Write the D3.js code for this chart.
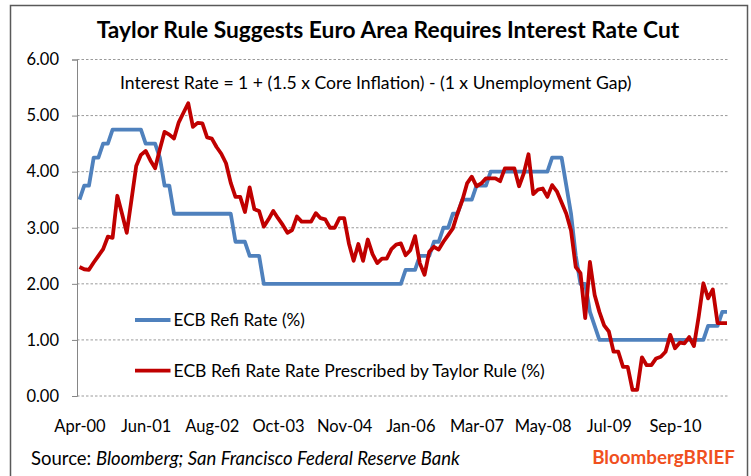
<!DOCTYPE html>
<html>
<head>
<meta charset="utf-8">
<script src="https://cdn.jsdelivr.net/npm/d3@7"></script>
<style>
  body { margin: 0; background: #fff; }
  text { font-family: Lato, "Open Sans", sans-serif; fill: #000; }
</style>
</head>
<body>
<svg id="chart" width="751" height="476"></svg>
<script>
// monthly values, Apr-00 .. Sep-11
const refiRate = [
  3.50, 3.75, 3.75, 4.25, 4.25, 4.50, 4.50, 4.75, 4.75, 4.75,
  4.75, 4.75, 4.75, 4.75, 4.50, 4.50, 4.50, 4.25, 3.75, 3.75,
  3.25, 3.25, 3.25, 3.25, 3.25, 3.25, 3.25, 3.25, 3.25, 3.25,
  3.25, 3.25, 3.25, 2.75, 2.75, 2.75, 2.50, 2.50, 2.50, 2.00,
  2.00, 2.00, 2.00, 2.00, 2.00, 2.00, 2.00, 2.00, 2.00, 2.00,
  2.00, 2.00, 2.00, 2.00, 2.00, 2.00, 2.00, 2.00, 2.00, 2.00,
  2.00, 2.00, 2.00, 2.00, 2.00, 2.00, 2.00, 2.00, 2.00, 2.25,
  2.25, 2.25, 2.50, 2.50, 2.50, 2.75, 2.75, 3.00, 3.00, 3.25,
  3.25, 3.50, 3.50, 3.50, 3.75, 3.75, 3.75, 4.00, 4.00, 4.00,
  4.00, 4.00, 4.00, 4.00, 4.00, 4.00, 4.00, 4.00, 4.00, 4.00,
  4.25, 4.25, 4.25, 3.75, 3.25, 2.50, 2.00, 2.00, 1.50, 1.25,
  1.00, 1.00, 1.00, 1.00, 1.00, 1.00, 1.00, 1.00, 1.00, 1.00,
  1.00, 1.00, 1.00, 1.00, 1.00, 1.00, 1.00, 1.00, 1.00, 1.00,
  1.00, 1.00, 1.00, 1.25, 1.25, 1.25, 1.50, 1.50
];
const taylorRate = [
  2.30, 2.26, 2.25, 2.38, 2.50, 2.62, 2.84, 2.82, 3.57, 3.25,
  2.91, 3.50, 4.10, 4.30, 4.37, 4.20, 4.06, 4.40, 4.71, 4.66,
  4.59, 4.88, 5.05, 5.22, 4.80, 4.87, 4.86, 4.61, 4.59, 4.44,
  4.32, 4.15, 3.80, 3.55, 3.55, 3.28, 3.72, 3.33, 3.30, 3.02,
  3.15, 3.30, 3.17, 3.05, 2.91, 2.96, 3.20, 3.11, 3.11, 3.11,
  3.26, 3.17, 3.15, 3.00, 3.00, 3.17, 3.17, 2.72, 2.41, 2.71,
  2.41, 2.79, 2.53, 2.37, 2.45, 2.45, 2.62, 2.70, 2.72, 2.51,
  2.60, 2.85, 2.37, 2.16, 2.57, 2.66, 2.61, 2.75, 2.87, 2.99,
  3.26, 3.49, 3.79, 3.91, 3.74, 3.79, 3.88, 3.88, 3.88, 3.83,
  4.06, 4.06, 4.06, 3.74, 3.97, 4.31, 3.60, 3.68, 3.70, 3.55,
  3.76, 3.65, 3.45, 3.25, 2.95, 2.30, 2.19, 1.39, 2.39, 1.80,
  1.50, 1.26, 1.15, 0.79, 0.79, 0.52, 0.52, 0.11, 0.11, 0.69,
  0.55, 0.55, 0.67, 0.70, 0.79, 1.09, 0.85, 0.95, 0.94, 1.05,
  0.89, 1.41, 2.01, 1.74, 1.90, 1.30, 1.30, 1.30
];
const xLabels = ["Apr-00", "Jun-01", "Aug-02", "Oct-03", "Nov-04", "Jan-06", "Mar-07", "May-08", "Jul-09", "Sep-10"];
const yTicks = [0, 1, 2, 3, 4, 5, 6];
const series = [
  { name: "ECB Refi Rate (%)", values: refiRate, color: "#4F81BD" },
  { name: "ECB Refi Rate Rate Prescribed by Taylor Rule (%)", values: taylorRate, color: "#C00000" }
];
const labelStep = 14;

const svg = d3.select("#chart");

// scale font-size so text fills a given width
function fitWidth(sel, target) {
  const w = sel.node().getComputedTextLength();
  const fs = parseFloat(sel.attr("font-size"));
  sel.attr("font-size", fs * target / w);
}

// outer frame
svg.append("rect")
   .attr("x", 10.5).attr("y", 5.5)
   .attr("width", 737).attr("height", 480)
   .attr("fill", "none")
   .attr("stroke", "#595959")
   .attr("stroke-width", 1.5);

const x = d3.scaleLinear()
            .domain([0, refiRate.length - 1])
            .range([79.5, 727]);
const y = d3.scaleLinear()
            .domain([0, 6])
            .range([396, 59.5]);

// gridlines
svg.append("g")
   .selectAll("line")
   .data(yTicks)
   .enter()
   .append("line")
   .attr("x1", 77).attr("x2", 729)
   .attr("y1", d => y(d)).attr("y2", d => y(d))
   .attr("stroke", "#9a9a9a")
   .attr("stroke-dasharray", "2.5,2")
   .attr("stroke-width", 1);

// y axis
let yAxis = svg.append("g")
               .attr("transform", "translate(77,0)")
               .call(d3.axisLeft(y).tickValues(yTicks).tickSize(5).tickPadding(13).tickFormat(d3.format(".2f")));
yAxis.select(".domain").attr("stroke", "#868686");
yAxis.selectAll(".tick line").attr("stroke", "#868686");
yAxis.selectAll(".tick text")
     .attr("font-family", "Lato")
     .attr("font-size", 16.5)
     .attr("fill", "#000");

// x labels
svg.append("g")
   .selectAll("text")
   .data(xLabels)
   .enter()
   .append("text")
   .attr("x", (d, i) => x(i * labelStep) + 0.5)
   .attr("y", 431.5)
   .attr("text-anchor", "middle")
   .attr("font-size", 16.5)
   .text(d => d);

// lines
const line = d3.line()
               .x((d, i) => x(i))
               .y(d => y(d));
svg.append("g")
   .selectAll("path")
   .data(series)
   .enter()
   .append("path")
   .attr("d", d => line(d.values))
   .attr("fill", "none")
   .attr("stroke", d => d.color)
   .attr("stroke-width", 3.8)
   .attr("stroke-linejoin", "round")
   .attr("stroke-linecap", "butt");

// legend
let legend = svg.append("g")
                .selectAll("g")
                .data(series)
                .enter()
                .append("g")
                .attr("transform", (d, i) => "translate(135," + (320 + i * 50.7) + ")");
legend.append("line")
      .attr("x1", 0).attr("x2", 35.5)
      .attr("stroke", d => d.color)
      .attr("stroke-width", 3.8);
legend.append("text")
      .attr("x", 38.5)
      .attr("y", 6)
      .attr("font-size", 16.5)
      .text(d => d.name)
      .each(function (d, i) { fitWidth(d3.select(this), i === 0 ? 131.5 : 371.5); });

// title
let title = svg.append("text")
               .attr("x", 388).attr("y", 37.5)
               .attr("text-anchor", "middle")
               .attr("font-weight", "bold")
               .attr("font-size", 21)
               .text("Taylor Rule Suggests Euro Area Requires Interest Rate Cut");
fitWidth(title, 583);

// formula note
let note = svg.append("text")
              .attr("x", 120).attr("y", 89.3)
              .attr("font-size", 16.5)
              .text("Interest Rate = 1 + (1.5 x Core Inflation) - (1 x Unemployment Gap)");
fitWidth(note, 512);

// source
let source = svg.append("text")
                .attr("x", 31).attr("y", 465)
                .attr("font-size", 16.5);
source.append("tspan").text("Source: ");
source.append("tspan").attr("font-style", "italic").text("Bloomberg; San Francisco Federal Reserve Bank");
fitWidth(source, 429);

let brand = svg.append("text")
               .attr("x", 735).attr("y", 464)
               .attr("text-anchor", "end")
               .attr("font-family", "Liberation Sans, Arial, sans-serif")
               .attr("font-weight", "bold")
               .attr("font-size", 16.5)
               .style("fill", "#F0501E")
               .text("BloombergBRIEF");
fitWidth(brand, 143);
</script>
</body>
</html>
